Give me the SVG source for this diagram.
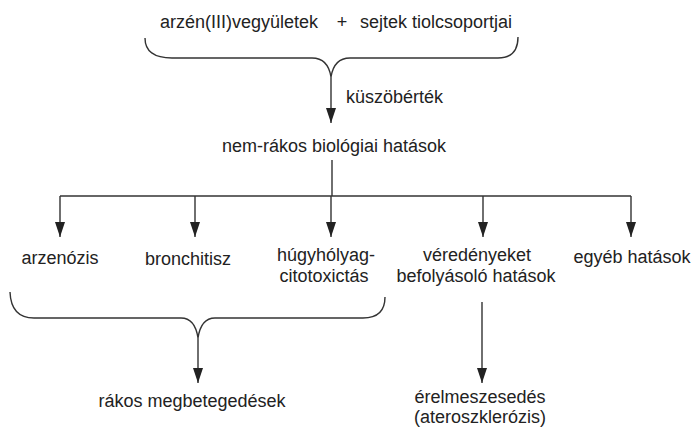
<svg xmlns="http://www.w3.org/2000/svg" width="695" height="429" viewBox="0 0 695 429">
<defs>
<marker id="ah" markerUnits="userSpaceOnUse" markerWidth="15" markerHeight="10" refX="15" refY="5" orient="auto">
<path d="M0,0 L15,5 L0,10 z" fill="#222"/>
</marker>
<style>
text{font-family:"Liberation Sans",Arial,sans-serif;font-size:18px;fill:#222}
.c{text-anchor:middle}
.ln{fill:none;stroke:#333;stroke-width:1.4}
.ar{fill:none;stroke:#333;stroke-width:1.4;marker-end:url(#ah)}
</style>
</defs>
<rect width="695" height="429" fill="#fff"/>
<g id="connectors">
<path class="ln" d="M145,38 Q145,58 172,58 L312,58 Q328,58 331,77 Q334,58 350,58 L498,58 Q518,58 518,37"/>
<line class="ar" x1="331" y1="77" x2="331" y2="123"/>
<line class="ln" x1="332" y1="160" x2="332" y2="196"/>
<line class="ln" x1="60" y1="196" x2="631" y2="196"/>
<line class="ar" x1="60" y1="196" x2="60" y2="237"/>
<line class="ar" x1="195" y1="196" x2="195" y2="237"/>
<line class="ar" x1="331" y1="196" x2="331" y2="237"/>
<line class="ar" x1="483" y1="196" x2="483" y2="237"/>
<line class="ar" x1="631" y1="196" x2="631" y2="237"/>
<path class="ln" d="M10,292 Q11,318 34,318 L181,318 Q195,318 198,338 Q201,318 215,318 L363,318 Q385,318 385,297"/>
<line class="ar" x1="198" y1="338" x2="198" y2="383"/>
<line class="ar" x1="482" y1="302" x2="482" y2="383"/>
</g>
<g id="inputs">
<text x="160" y="28">arzén(III)vegyületek</text>
<text class="c" x="342" y="28">+</text>
<text x="360" y="28">sejtek tiolcsoportjai</text>
</g>
<g id="threshold"><text x="346" y="103">küszöbérték</text></g>
<g id="nonCancer"><text class="c" x="334" y="152">nem-rákos biológiai hatások</text></g>
<g id="arsenosis"><text class="c" x="60" y="264">arzenózis</text></g>
<g id="bronchitis"><text class="c" x="188" y="265">bronchitisz</text></g>
<g id="bladder"><text class="c" x="326" y="261">húgyhólyag-</text><text class="c" x="324" y="282">citotoxictás</text></g>
<g id="vascular"><text class="c" x="477" y="261">véredényeket</text><text class="c" x="476" y="282">befolyásoló hatások</text></g>
<g id="other"><text class="c" x="632" y="263">egyéb hatások</text></g>
<g id="cancer"><text class="c" x="192" y="407">rákos megbetegedések</text></g>
<g id="athero"><text class="c" x="480" y="403">érelmeszesedés</text><text class="c" x="480" y="423">(ateroszklerózis)</text></g>
</svg>
